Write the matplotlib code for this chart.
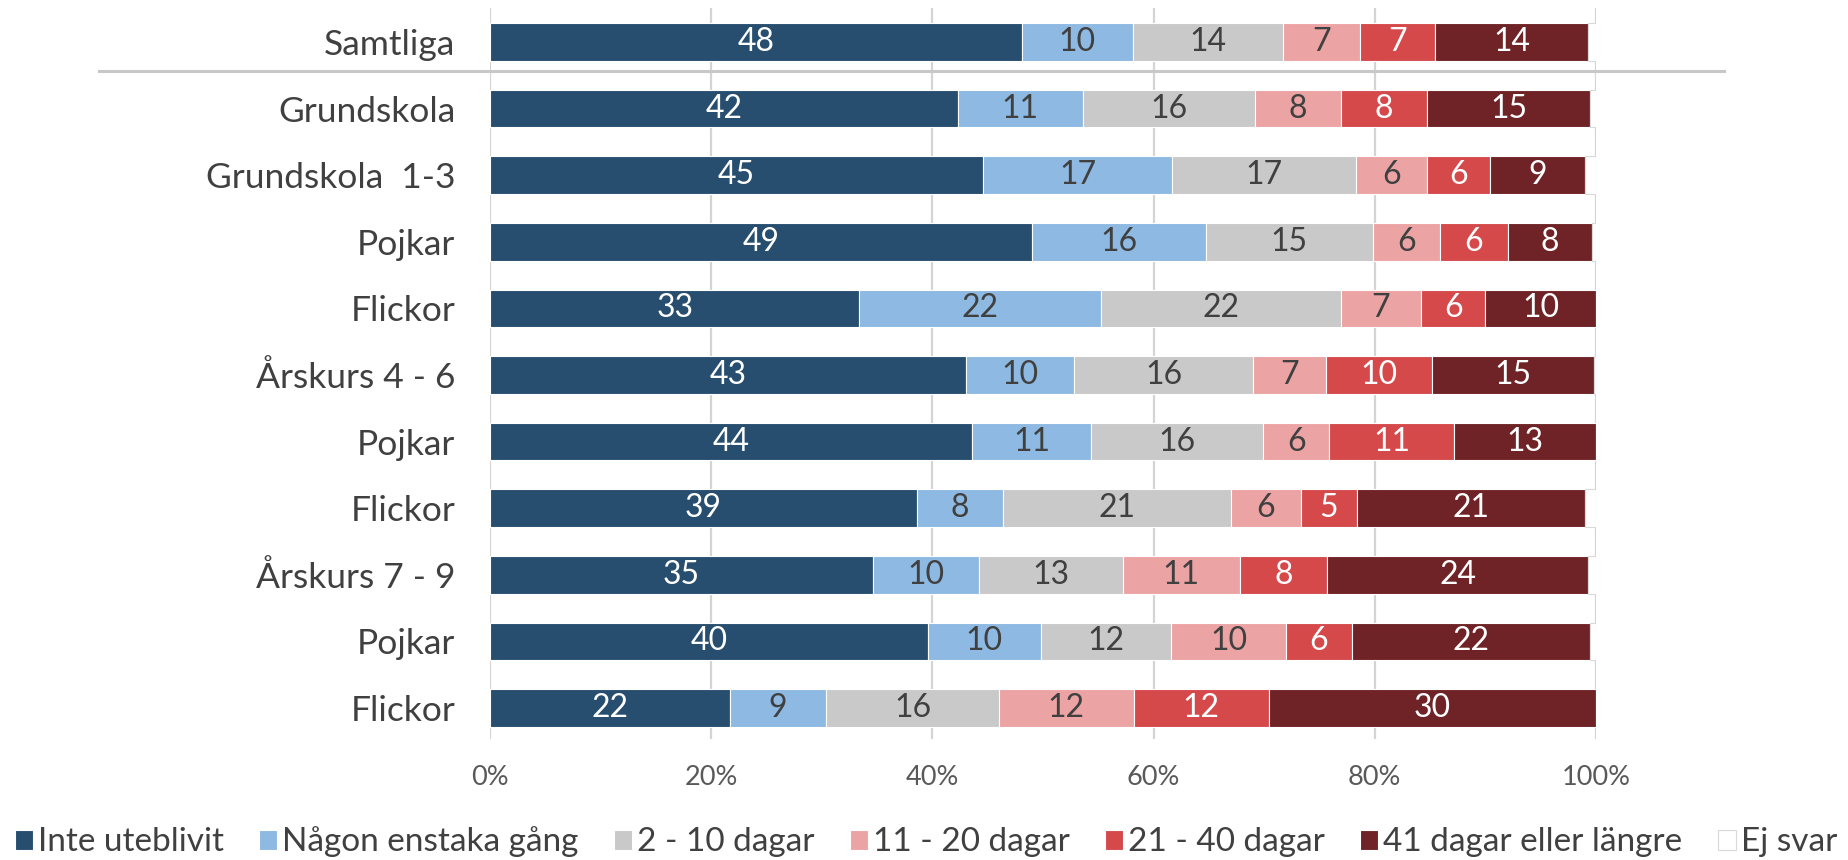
import matplotlib
matplotlib.use("Agg")
import matplotlib.pyplot as plt
from matplotlib.lines import Line2D
import numpy as np

plt.rcParams['font.family'] = ['Lato', 'DejaVu Sans']

categories = ["Samtliga", "Grundskola", "Grundskola  1-3", "Pojkar", "Flickor",
              "Årskurs 4 - 6", "Pojkar", "Flickor", "Årskurs 7 - 9", "Pojkar", "Flickor"]

series_names = ["Inte uteblivit", "Någon enstaka gång", "2 - 10 dagar", "11 - 20 dagar",
                "21 - 40 dagar", "41 dagar eller längre", "Ej svar"]

inte_uteblivit = [48.1, 42.3, 44.6, 49.0, 33.4, 43.0, 43.6, 38.6, 34.6, 39.6, 21.7]
nagon_enstaka  = [10.0, 11.3, 17.1, 15.7, 21.8, 9.8, 10.7, 7.8, 9.6, 10.2, 8.7]
dagar_2_10     = [13.6, 15.6, 16.6, 15.1, 21.7, 16.2, 15.6, 20.6, 13.0, 11.8, 15.6]
dagar_11_20    = [7.0, 7.7, 6.4, 6.1, 7.3, 6.6, 6.0, 6.3, 10.6, 10.4, 12.2]
dagar_21_40    = [6.75, 7.8, 5.7, 6.1, 5.8, 9.6, 11.3, 5.1, 7.9, 5.9, 12.2]
dagar_41_plus  = [13.85, 14.8, 8.6, 7.6, 10.0, 14.6, 12.8, 20.6, 23.6, 21.6, 29.6]
ej_svar        = [0.7, 0.5, 1.0, 0.4, 0.0, 0.2, 0.0, 1.0, 0.7, 0.5, 0.0]

x_ticks = [0, 20, 40, 60, 80, 100]
x_tick_labels = ["0%", "20%", "40%", "60%", "80%", "100%"]

series = [inte_uteblivit, nagon_enstaka, dagar_2_10, dagar_11_20, dagar_21_40, dagar_41_plus, ej_svar]
colors = ["#274e6f", "#8db9e2", "#c9c9c9", "#eba3a3", "#d5494b", "#6f2326", "#ffffff"]
text_colors = ["white", "#404040", "#404040", "#404040", "white", "white", None]
edge_colors = ["white"] * 6 + ["#d9d9d9"]

W, H = 1849, 860
fig = plt.figure(figsize=(W / 100, H / 100), dpi=100)
ax_left, ax_right = 490, 1596
ax_top, ax_bottom = 8, 739
ax = fig.add_axes([ax_left / W, 1 - ax_bottom / H, (ax_right - ax_left) / W, (ax_bottom - ax_top) / H])

y = np.arange(len(categories))
left = np.zeros(len(categories))
handles = []
for vals, col, tcol, ecol, name in zip(series, colors, text_colors, edge_colors, series_names):
    vals = np.array(vals)
    bars = ax.barh(y, vals, left=left, height=0.566, color=col, edgecolor=ecol,
                   linewidth=0.8, zorder=3, label=name)
    handles.append(bars)
    if tcol is not None:
        for yi, v, l in zip(y, vals, left):
            if v > 0:
                ax.text(l + v / 2, yi, f"{v:.0f}", ha="center", va="center",
                        color=tcol, fontsize=23, zorder=4)
    left = left + vals

ax.set_xlim(0, 100)
ax.set_ylim(10.465, -0.509)
ax.set_xticks(x_ticks)
ax.set_xticklabels(x_tick_labels, fontsize=19.5, color="#595959")
ax.set_yticks(y)
ax.set_yticklabels(categories, fontsize=25.5, color="#404040")
ax.tick_params(axis="x", length=0, pad=19)
ax.tick_params(axis="y", length=0, pad=25)
ax.grid(axis="x", color="#d4d4d4", linewidth=1.6, zorder=0)
ax.grid(axis="y", visible=False)
for s in ax.spines.values():
    s.set_visible(False)

# separator line below "Samtliga"
fig.add_artist(Line2D([99 / W, 1724 / W], [1 - 71 / H, 1 - 71 / H],
                      color="#c8c8c8", linewidth=2.2, transform=fig.transFigure))

leg = fig.legend(handles=handles, labels=series_names, loc="center", ncol=7,
                 bbox_to_anchor=(0.5008, 1 - 842 / H), frameon=False,
                 fontsize=24, handlelength=0.55, handleheight=0.55,
                 handletextpad=0.15, columnspacing=1.05, borderpad=0)
for t in leg.get_texts():
    t.set_color("#404040")

fig.savefig("out.png", dpi=100)
